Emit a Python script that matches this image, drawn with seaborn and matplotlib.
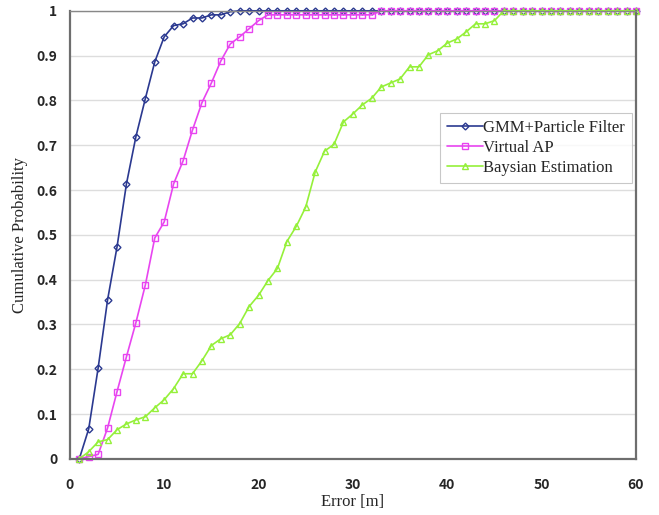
import numpy as np
import pandas as pd
import matplotlib
matplotlib.use('Agg')
import matplotlib.pyplot as plt
import seaborn as sns

sns.set_style('white')

# error values [m]
error_m = list(range(1, 61))

gmm_pf = [0.0, 0.067, 0.203, 0.355, 0.473, 0.614, 0.719, 0.804, 0.886, 0.942,
          0.967, 0.971, 0.984, 0.984, 0.991, 0.991, 0.998, 1.0, 1.0, 1.0,
          1.0, 1.0, 1.0, 1.0, 1.0, 1.0, 1.0, 1.0, 1.0, 1.0,
          1.0, 1.0, 1.0, 1.0, 1.0, 1.0, 1.0, 1.0, 1.0, 1.0,
          1.0, 1.0, 1.0, 1.0, 1.0, 1.0, 1.0, 1.0, 1.0, 1.0,
          1.0, 1.0, 1.0, 1.0, 1.0, 1.0, 1.0, 1.0, 1.0, 1.0]

virtual_ap = [0.0, 0.005, 0.01, 0.069, 0.15, 0.228, 0.304, 0.388, 0.493, 0.529,
              0.614, 0.665, 0.734, 0.795, 0.839, 0.888, 0.926, 0.942, 0.96, 0.978,
              0.991, 0.991, 0.991, 0.991, 0.991, 0.991, 0.991, 0.991, 0.991, 0.991,
              0.991, 0.991, 1.0, 1.0, 1.0, 1.0, 1.0, 1.0, 1.0, 1.0,
              1.0, 1.0, 1.0, 1.0, 1.0, 1.0, 1.0, 1.0, 1.0, 1.0,
              1.0, 1.0, 1.0, 1.0, 1.0, 1.0, 1.0, 1.0, 1.0, 1.0]

baysian = [0.0, 0.016, 0.038, 0.043, 0.065, 0.078, 0.087, 0.094, 0.114, 0.132,
           0.157, 0.19, 0.19, 0.219, 0.253, 0.268, 0.277, 0.302, 0.34, 0.365,
           0.398, 0.425, 0.485, 0.519, 0.562, 0.64, 0.687, 0.702, 0.752, 0.77,
           0.79, 0.805, 0.83, 0.839, 0.848, 0.875, 0.875, 0.902, 0.911, 0.928,
           0.937, 0.953, 0.971, 0.971, 0.978, 1.0, 1.0, 1.0, 1.0, 1.0,
           1.0, 1.0, 1.0, 1.0, 1.0, 1.0, 1.0, 1.0, 1.0, 1.0]

labels = ['GMM+Particle Filter', 'Virtual AP', 'Baysian Estimation']
colors = ['#2B3990', '#E845F0', '#95F03A']
markers = ['D', 's', '^']
msizes = [3.5, 4.5, 5]

df = pd.DataFrame({'error': error_m, labels[0]: gmm_pf,
                   labels[1]: virtual_ap, labels[2]: baysian})

fig = plt.figure(figsize=(6.59, 5.15), dpi=100)
ax = fig.add_axes([0.106, 0.109, 0.859, 0.870])

for lab, c, m, ms in zip(labels, colors, markers, msizes):
    sns.lineplot(data=df, x='error', y=lab, ax=ax, color=c, marker=m,
                 markersize=ms, markerfacecolor='none', markeredgecolor=c,
                 markeredgewidth=1.0, linewidth=1.2, label=lab, clip_on=False)

ax.set_xlim(0, 60)
ax.set_ylim(0, 1)
ax.set_xticks(range(0, 61, 10))
ax.set_yticks(np.arange(0, 1.01, 0.1))
ax.set_yticklabels(['0', '0.1', '0.2', '0.3', '0.4', '0.5', '0.6', '0.7',
                    '0.8', '0.9', '1'])
ax.yaxis.grid(True, color='#DDDDDD', linewidth=1.0)
ax.tick_params(direction='in', length=4, color='#999999', labelsize=10)
ax.tick_params(axis='x', pad=14)
ax.tick_params(axis='y', pad=9)
for t in ax.get_xticklabels() + ax.get_yticklabels():
    t.set_family(['Noto Sans CJK JP', 'DejaVu Sans'])
    t.set_fontweight('bold')

for s in ax.spines.values():
    s.set_color('#888888')
    s.set_linewidth(1.0)
for side in ['left', 'bottom', 'right']:
    ax.spines[side].set_linewidth(1.6)
    ax.spines[side].set_color('#6E6E6E')

ax.set_xlabel('Error [m]', family='Liberation Serif', fontsize=12, labelpad=1)
ax.set_ylabel('Cumulative Probability', family='Liberation Serif',
              fontsize=12, labelpad=6)

leg = ax.legend(loc='upper left', bbox_to_anchor=(0.654, 0.772),
                prop={'family': 'Liberation Serif', 'size': 12},
                frameon=True, fancybox=False, handlelength=2.2,
                handletextpad=0.0, borderpad=0.4, labelspacing=0.25,
                borderaxespad=0)
leg.get_frame().set_edgecolor('#BBBBBB')
leg.get_frame().set_linewidth(0.8)

fig.savefig('out.png', dpi=100)
